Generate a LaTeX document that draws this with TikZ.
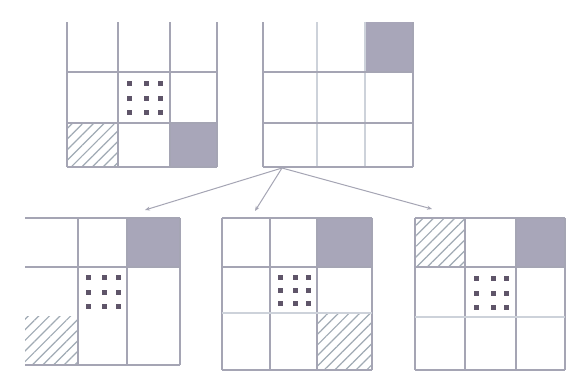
\documentclass[tikz,border=0pt]{standalone}
\usetikzlibrary{patterns.meta,arrows.meta}
\definecolor{gline}{RGB}{165,165,180}
\definecolor{gfaint}{RGB}{205,210,218}
\definecolor{gdark}{RGB}{168,166,185}
\definecolor{gdot}{RGB}{95,85,105}
\definecolor{ghatch}{RGB}{160,170,180}
\tikzset{
  gridline/.style={draw=gline,line width=1.6pt},
  faintline/.style={draw=gfaint,line width=1.4pt},
  darkcell/.style={fill=gdark},
  hatchcell/.style={pattern={Lines[distance=7.5pt,angle=45,line width=1.2pt]},pattern color=ghatch},
  dotmark/.style={fill=gdot},
  arrowline/.style={draw=gline,line width=1pt,-{Stealth[length=5pt,width=4pt]}}
}
\newcommand{\dotcell}[4]{% x0 y0 x1 y1
  \foreach \fx in {0.22,0.55,0.82}{
    \foreach \fy in {0.22,0.52,0.8}{
      \fill[dotmark] ({#1+\fx*(#3-#1)-2.5},{#2+\fy*(#4-#2)-2.5}) rectangle ++(5,5);
    }}}
\begin{document}
\begin{tikzpicture}[x=1pt,y=-1pt]
\useasboundingbox (0,0) rectangle (573,376);
\fill[white] (0,0) rectangle (573,376);
% ---------- top-left grid ----------
\path[hatchcell] (67,123) rectangle (118,167);
\fill[darkcell] (170,123) rectangle (217,167);
\dotcell{118}{72}{170}{123}
\draw[gridline] (67,22) -- (67,167) (118,22) -- (118,167) (170,22) -- (170,167) (217,22) -- (217,167);
\draw[gridline] (67,72) -- (217,72) (67,123) -- (217,123) (67,167) -- (217,167);
% ---------- top-right grid ----------
\fill[darkcell] (365,22) rectangle (413,72);
\draw[gridline] (263,22) -- (263,167) (413,22) -- (413,167);
\draw[faintline] (317,22) -- (317,167) (365,22) -- (365,167);
\draw[gridline] (263,72) -- (413,72) (263,123) -- (413,123) (263,167) -- (413,167);
\coordinate (src) at (282,168);
% ---------- bottom-left grid ----------
\path[hatchcell] (25,316) rectangle (78,365);
\fill[darkcell] (127,218) rectangle (180,267);
\dotcell{78}{267}{127}{316}
\draw[gridline] (78,218) -- (78,365) (127,218) -- (127,365) (180,218) -- (180,365);
\draw[gridline] (25,218) -- (180,218) (25,267) -- (180,267) (25,365) -- (180,365);
\coordinate (t1) at (145,210);
% ---------- bottom-middle grid ----------
\path[hatchcell] (317,313) rectangle (372,370);
\fill[darkcell] (317,218) rectangle (372,267);
\dotcell{270}{267}{317}{313}
\draw[gridline] (222,218) -- (222,370) (270,218) -- (270,370) (317,218) -- (317,370) (372,218) -- (372,370);
\draw[gridline] (222,218) -- (372,218) (222,267) -- (372,267) (222,370) -- (372,370);
\draw[faintline] (222,313) -- (372,313);
\coordinate (t2) at (255,211);
% ---------- bottom-right grid ----------
\path[hatchcell] (415,218) rectangle (465,267);
\fill[darkcell] (516,218) rectangle (565,267);
\dotcell{465}{267}{516}{317}
\draw[gridline] (415,218) -- (415,370) (465,218) -- (465,370) (516,218) -- (516,370) (565,218) -- (565,370);
\draw[gridline] (415,218) -- (565,218) (415,267) -- (565,267) (415,370) -- (565,370);
\draw[faintline] (415,317) -- (565,317);
\coordinate (t3) at (432,209);
% ---------- arrows ----------
\draw[arrowline] (src) -- (t1);
\draw[arrowline] (src) -- (t2);
\draw[arrowline] (src) -- (t3);
\end{tikzpicture}
\end{document}
